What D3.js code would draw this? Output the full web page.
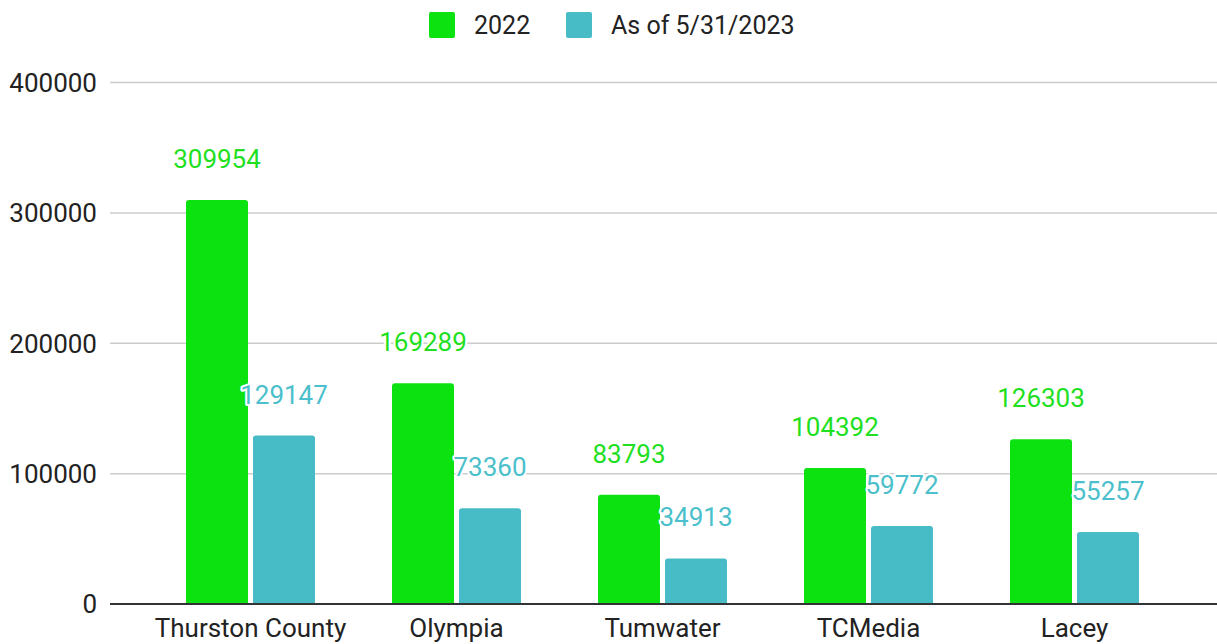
<html>
<head>
<meta charset="utf-8">
<title>2022 vs 2023</title>
<script src="https://cdn.jsdelivr.net/npm/d3@7"></script>
<style>
  body { margin: 0; background: #fff; }
  text { font-family: Roboto, "Liberation Sans", sans-serif; }
</style>
</head>
<body>
<div id="chart"></div>
<script>
const categories = ["Thurston County", "Olympia", "Tumwater", "TCMedia", "Lacey"]
const seriesNames = ["2022", "As of 5/31/2023"]
const values2022 = [309954, 169289, 83793, 104392, 126303]
const values2023 = [129147, 73360, 34913, 59772, 55257]
const yTicks = [0, 100000, 200000, 300000, 400000]
const colors = ["#0ce20f", "#48bcc6"]
const labelColors = ["#1fe01f", "#4bbfcb"]

const W = 1217, H = 644
const svg = d3.select("#chart").append("svg")
  .attr("width", W).attr("height", H)

const y = d3.scaleLinear().domain([0, 400000]).range([604, 82.5])
const x0 = d3.scaleBand().domain(categories).range([147.5, 1177.5]).padding(0)
const x1 = d3.scaleBand().domain(seriesNames)
  .range([38.5, 167.5]).paddingInner(5 / 67).paddingOuter(0)

// gridlines
svg.append("g").selectAll("line")
  .data(yTicks.filter(d => d > 0))
  .join("line")
  .attr("x1", 110).attr("x2", W)
  .attr("y1", d => y(d)).attr("y2", d => y(d))
  .attr("stroke", "#cccccc").attr("stroke-width", 1.5)

// y labels
svg.append("g").selectAll("text")
  .data(yTicks)
  .join("text")
  .attr("x", 97).attr("y", d => y(d))
  .attr("dy", "0.36em")
  .attr("text-anchor", "end")
  .attr("font-size", 26)
  .attr("fill", "#222")
  .text(d => d)

const rows = categories.map((c, i) => ({ cat: c, vals: [values2022[i], values2023[i]] }))

const groups = svg.append("g").selectAll("g")
  .data(rows)
  .join("g")
  .attr("transform", d => `translate(${x0(d.cat)},0)`)

// bars with rounded tops
groups.selectAll("path")
  .data(d => d.vals.map((v, j) => ({ s: seriesNames[j], v, j })))
  .join("path")
  .attr("fill", d => colors[d.j])
  .attr("d", d => {
    const bx = x1(d.s), bw = x1.bandwidth(), top = y(d.v), base = y(0), r = 3
    return `M${bx},${base}V${top + r}Q${bx},${top} ${bx + r},${top}H${bx + bw - r}Q${bx + bw},${top} ${bx + bw},${top + r}V${base}Z`
  })

// value labels
groups.selectAll("text")
  .data(d => d.vals.map((v, j) => ({ s: seriesNames[j], v, j })))
  .join("text")
  .attr("x", d => x1(d.s) + x1.bandwidth() / 2)
  .attr("y", d => y(d.v) - 32)
  .attr("text-anchor", "middle")
  .attr("font-size", 26)
  .attr("fill", d => labelColors[d.j])
  .attr("stroke", "#fff").attr("stroke-width", 4)
  .attr("stroke-linejoin", "round")
  .attr("paint-order", "stroke")
  .text(d => d.v)

// baseline
svg.append("line")
  .attr("x1", 110).attr("x2", W)
  .attr("y1", y(0)).attr("y2", y(0))
  .attr("stroke", "#333").attr("stroke-width", 2)

// category labels
svg.append("g").selectAll("text")
  .data(categories)
  .join("text")
  .attr("x", d => x0(d) + x0.bandwidth() / 2)
  .attr("y", 637)
  .attr("text-anchor", "middle")
  .attr("font-size", 26)
  .attr("fill", "#222")
  .text(d => d)

// legend
const legendX = [429, 566]
const legend = svg.append("g").selectAll("g")
  .data(seriesNames)
  .join("g")
  .attr("transform", (d, i) => `translate(${legendX[i]},12)`)
legend.append("rect")
  .attr("width", 26).attr("height", 26).attr("rx", 2)
  .attr("fill", (d, i) => colors[i])
legend.append("text")
  .attr("x", 45).attr("y", 22)
  .attr("font-size", 25)
  .attr("fill", "#222")
  .text(d => d)
</script>
</body>
</html>
